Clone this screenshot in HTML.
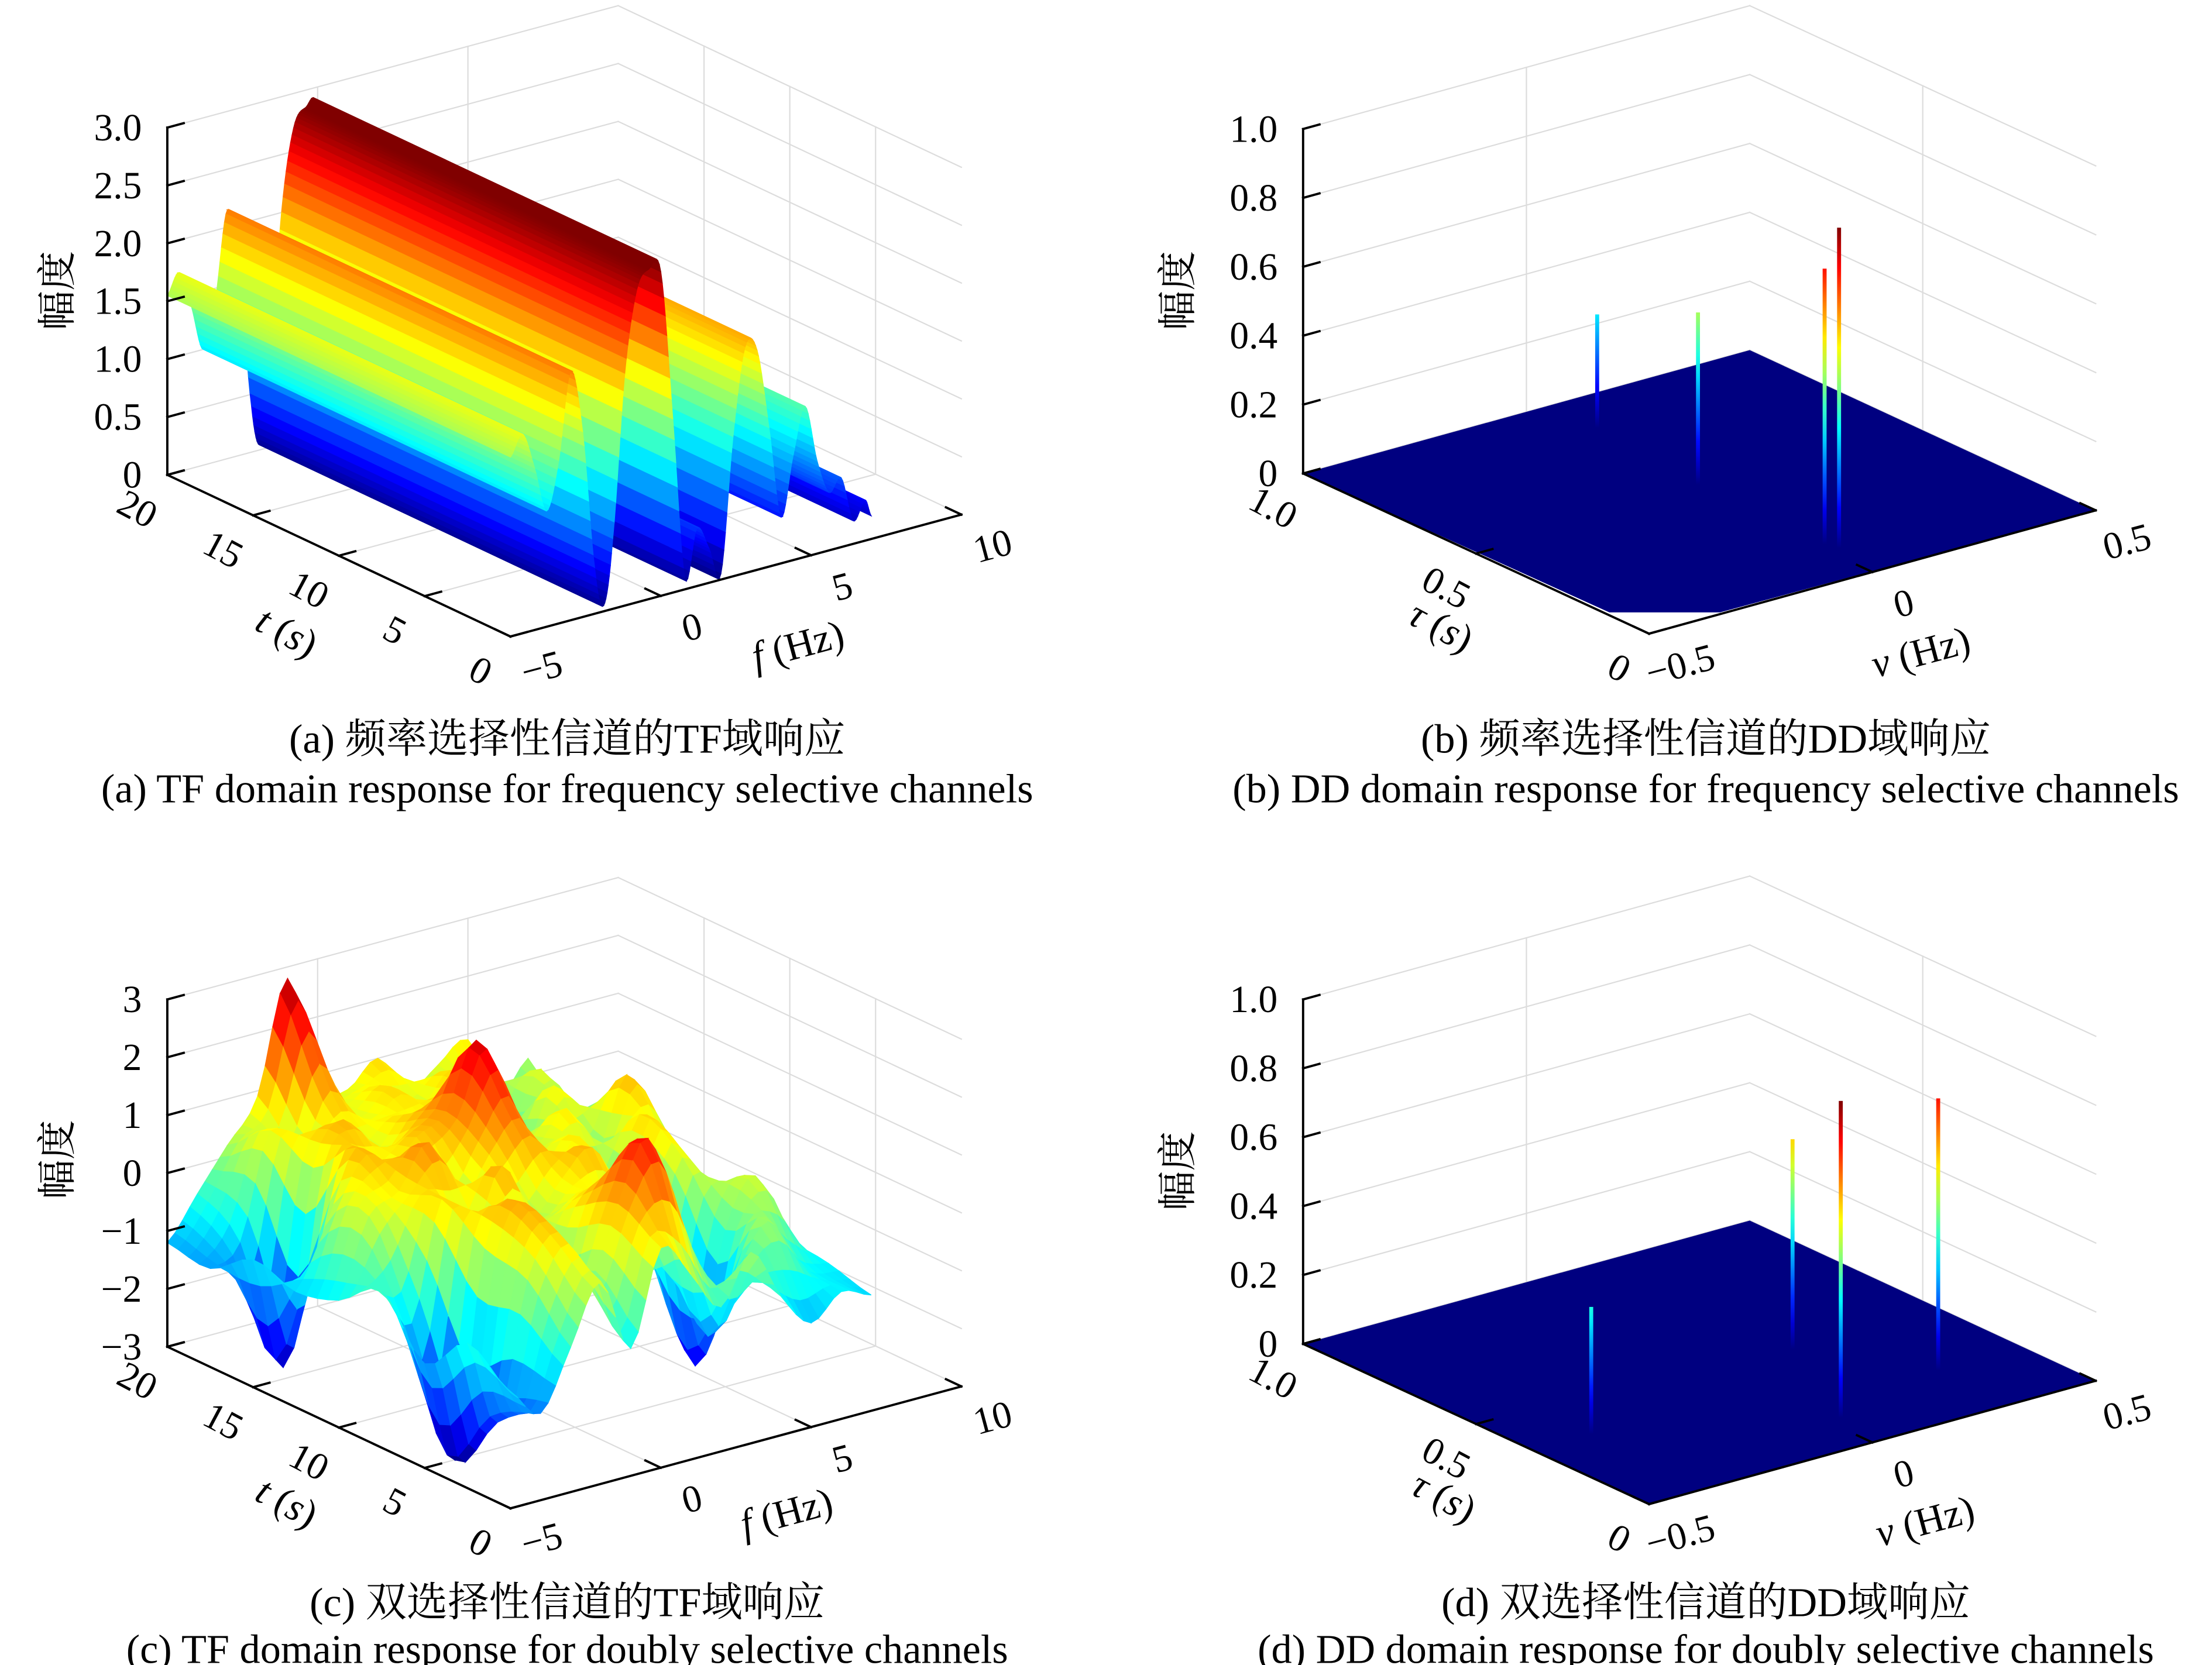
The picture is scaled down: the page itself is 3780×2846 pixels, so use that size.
<!DOCTYPE html>
<html><head><meta charset="utf-8"><style>
html,body{margin:0;padding:0;background:#fff}
svg{display:block}
text{font-family:"Liberation Serif","Noto Serif CJK SC","Noto Sans CJK SC",serif;fill:#000}
</style></head><body>
<svg id="fig" xmlns="http://www.w3.org/2000/svg" width="3780" height="2846" viewBox="0 0 1560 1174.5" preserveAspectRatio="none">
<rect x="0" y="0" width="1560" height="1174.5" fill="#fff"/>
<text x="400" y="531" font-size="29" text-anchor="middle">(a) 频率选择性信道的TF域响应</text>
<text x="400" y="566" font-size="29" text-anchor="middle">(a) TF domain response for frequency selective channels</text>
<text x="1203" y="531" font-size="29" text-anchor="middle">(b) 频率选择性信道的DD域响应</text>
<text x="1203" y="566" font-size="29" text-anchor="middle">(b) DD domain response for frequency selective channels</text>
<text x="400" y="1140" font-size="29" text-anchor="middle">(c) 双选择性信道的TF域响应</text>
<text x="400" y="1173" font-size="29" text-anchor="middle">(c) TF domain response for doubly selective channels</text>
<text x="1203" y="1140" font-size="29" text-anchor="middle">(d) 双选择性信道的DD域响应</text>
<text x="1203" y="1173" font-size="29" text-anchor="middle">(d) DD domain response for doubly selective channels</text>
</svg>
<script>
// ---- data ----
const aFreq = [-5.0,-4.6,-4.2,-3.8,-3.4,-3.0,-2.6,-2.2,-1.9,-1.6,-1.2,-0.8,-0.4,0.0,0.4,0.8,1.2,1.6,2.0,2.4,2.8,3.2,3.6,4.0,4.4,4.8,5.2,5.6,6.0,6.4,6.8,7.0];
const aAmp  = [1.55,1.72,1.4,1.0,1.4,2.15,1.6,0.4,0.05,0.6,2.0,2.7,2.85,2.8,1.5,0.1,0.5,0.3,0.05,1.2,1.95,1.9,1.2,0.4,0.9,1.3,0.8,0.5,0.6,0.2,0.35,0.2];
const aZTicks = [0,0.5,1,1.5,2,2.5,3];
const aZLabels = ["0","0.5","1.0","1.5","2.0","2.5","3.0"];
const tTicks = [20,15,10,5,0];
const tLabels = ["20","15","10","5","0"];
const fTicks = [-5,0,5,10];
const fLabels = ["\u22125","0","5","10"];
const bTau = [0.86,0.53,0.16,0.13];
const bNu  = [0.05,0.02,0.017,0.026];
const bAmp = [0.33,0.50,0.80,0.93];
const cT = [0,2.5,5,7.5,10,12.5,15,17.5,20];
const cF = [-5,-4,-3,-2,-1,0,1,2,3,4,5,6,7];
const cZ = [
 [-1.0,-1.5,-0.5, 0.5,-0.8, 0.8, 0.2,-0.5, 0.3,-0.6,-1.2,-0.8,-1.0],
 [-0.5,-2.0, 0.3, 1.0, 0.0, 1.2, 2.2, 0.5,-1.5,-0.5, 0.2,-0.6,-0.8],
 [-1.2,-3.0, 0.5, 1.2,-0.5, 0.8, 1.0,-0.5,-0.2,-2.5,-0.3, 0.5,-0.7],
 [-0.3,-1.0, 1.0, 0.2, 1.3, 0.3, 0.8, 1.2, 0.2,-0.8, 0.6,-0.2,-0.5],
 [-0.8, 0.5, 0.8, 1.5, 0.3, 1.0, 1.5, 0.4, 0.9,-0.3, 1.0, 0.3,-0.3],
 [-1.0, 0.0, 1.2, 0.6, 1.1, 1.4, 2.5, 0.8, 0.4, 0.9, 0.0, 1.2, 0.2],
 [-0.8,-2.8, 0.5, 1.2, 0.5, 1.0, 0.8, 1.3, 0.6,-0.2, 0.8, 0.0, 0.4],
 [-1.3,-1.0, 0.8, 0.3, 1.2, 0.6, 1.0, 0.5, 1.0, 0.3,-0.2, 0.6,-0.5],
 [-1.2,-0.5, 0.2, 0.9, 2.8, 0.8, 0.6, 1.0, 0.3, 0.6, 0.9,-0.2, 0.3]];
const cZTicks = [-3,-2,-1,0,1,2,3];
const cZLabels = ["\u22123","\u22122","\u22121","0","1","2","3"];
const dTau = [0.335,0.45,0.13,0.21];
const dNu  = [-0.37,0.17,0.03,0.31];
const dAmp = [0.37,0.61,0.92,0.79];
const ddZTicks = [0,0.2,0.4,0.6,0.8,1];
const ddZLabels = ["0","0.2","0.4","0.6","0.8","1.0"];
const tauTicks = [1,0.5,0];
const tauLabels = ["1.0","0.5","0"];
const nuTicks = [-0.5,0,0.5];
const nuLabels = ["\u22120.5","0","0.5"];

// ---- helpers ----
const NS="http://www.w3.org/2000/svg";
const svg=document.getElementById('fig');
function mk(tag,attrs,parent){const e=document.createElementNS(NS,tag);for(const k in attrs)e.setAttribute(k,attrs[k]);(parent||svg).appendChild(e);return e;}
function jet(v){v=Math.max(0,Math.min(1,v));const c=x=>Math.round(255*Math.max(0,Math.min(1,1.5-Math.abs(4*v-x))));return `rgb(${c(3)},${c(2)},${c(1)})`;}
function cr(p0,p1,p2,p3,s){return 0.5*((2*p1)+(-p0+p2)*s+(2*p0-5*p1+4*p2-p3)*s*s+(-p0+3*p1-3*p2+p3)*s*s*s);}
function makeAxes(cfg){
  cfg.P=(u,v,w)=>[cfg.O[0]+u*cfg.U[0]+v*cfg.V[0], cfg.O[1]+u*cfg.U[1]+v*cfg.V[1]-w*cfg.H];
  return cfg;
}
function line(g,a,b,stroke,sw){return mk('line',{x1:a[0].toFixed(2),y1:a[1].toFixed(2),x2:b[0].toFixed(2),y2:b[1].toFixed(2),stroke:stroke,'stroke-width':sw,'stroke-linecap':'square'},g);}
function drawGrid(cfg,g,zT,uT,vT){
  const P=cfg.P, gc='#dcdcdc', sw=0.9;
  zT.forEach(z=>{const w=cfg.wOf(z);
    const l1=line(g,P(0,0,w),P(0,1,w),gc,sw);
    
    
    const l2=line(g,P(0,1,w),P(1,1,w),gc,sw);
    
    });
  vT.forEach(x=>{const v=cfg.vOf(x);
    const l1=line(g,P(0,v,0),P(0,v,1),gc,sw);
    
    
    const l2=line(g,P(0,v,0),P(1,v,0),gc,sw);
    
    });
  uT.forEach(x=>{const u=cfg.uOf(x);
    const l1=line(g,P(u,1,0),P(u,1,1),gc,sw);
    
    
    const l2=line(g,P(u,0,0),P(u,1,0),gc,sw);
    
    });
}
function drawAxes(cfg,g,zT,zL,uT,uL,vT,vL,titles){
  const P=cfg.P, k='#000', sw=1.6;
  const ax1=line(g,P(0,0,0),P(0,0,1),k,sw);
  
  
  const ax2=line(g,P(0,0,0),P(1,0,0),k,sw);
  
  
  const ax3=line(g,P(1,0,0),P(1,1,0),k,sw);
  
  
  const vl=Math.hypot(cfg.V[0],cfg.V[1]), ul=Math.hypot(cfg.U[0],cfg.U[1]);
  const vd=[cfg.V[0]/vl*12,cfg.V[1]/vl*12], ud=[-cfg.U[0]/ul*12,-cfg.U[1]/ul*12];
  zT.forEach((z,i)=>{const p=P(0,0,cfg.wOf(z));
    const tk=line(g,p,[p[0]+vd[0],p[1]+vd[1]],k,sw);
    
    
    const t=mk('text',{x:(p[0]-18).toFixed(1),y:(p[1]+9).toFixed(1),'font-size':27,'text-anchor':'end'},g);
    t.textContent=zL[i];
    
    });
  uT.forEach((x,i)=>{const p=P(cfg.uOf(x),0,0);
    const tk=line(g,p,[p[0]+vd[0],p[1]+vd[1]],k,sw);
    
    
    const lx=p[0]-21, ly=p[1]+24;
    const t=mk('text',{x:lx.toFixed(1),y:(ly+9).toFixed(1),'font-size':27,'text-anchor':'middle',transform:`rotate(28 ${lx.toFixed(1)} ${ly.toFixed(1)})`},g);
    t.textContent=uL[i];
    
    });
  vT.forEach((x,i)=>{const p=P(1,cfg.vOf(x),0);
    const tk=line(g,p,[p[0]+ud[0],p[1]+ud[1]],k,sw);
    
    
    const lx=p[0]+22, ly=p[1]+22;
    const t=mk('text',{x:lx.toFixed(1),y:(ly+9).toFixed(1),'font-size':27,'text-anchor':'middle',transform:`rotate(-15 ${lx.toFixed(1)} ${ly.toFixed(1)})`},g);
    t.textContent=vL[i];
    
    });
  const zt=mk('text',{x:titles.z[0],y:titles.z[1],'font-size':28,'text-anchor':'middle',transform:`rotate(-90 ${titles.z[0]} ${titles.z[1]})`},g);
  zt.textContent='幅度';
  
  
  const ut=mk('text',{x:titles.u[0],y:titles.u[1],'font-size':28,'text-anchor':'middle',transform:`rotate(28 ${titles.u[0]} ${titles.u[1]})`},g);
  ut.innerHTML=`<tspan font-style="italic">${titles.uSym}</tspan> (<tspan font-style="italic">s</tspan>)`;
  
  
  const vt=mk('text',{x:titles.v[0],y:titles.v[1],'font-size':28,'text-anchor':'middle',transform:`rotate(-15 ${titles.v[0]} ${titles.v[1]})`},g);
  vt.innerHTML=`<tspan font-style="italic">${titles.vSym}</tspan> (Hz)`;
  
  
}
function panelGroup(name){const g=mk('g',{});return g;}

// ---- Panel (a) ----
(function(){
  const cfg=makeAxes({O:[118,335],U:[242,114],V:[318,-86],H:245,uOf:t=>(20-t)/20,vOf:f=>(f+5)/15,wOf:z=>z/3});
  const g=panelGroup('panel-a');
  drawGrid(cfg,g,aZTicks,tTicks.slice(1,4),fTicks.slice(1,3));
  const sg=mk('g',{},g);
  
  
  const fs=[],zs=[];const n=aFreq.length;
  for(let i=0;i<n-1;i++){for(let s=0;s<8;s++){const q=s/8;
    const f=aFreq[i]+(aFreq[i+1]-aFreq[i])*q;
    const z=Math.max(0,cr(aAmp[Math.max(0,i-1)],aAmp[i],aAmp[i+1],aAmp[Math.min(n-1,i+2)],q));
    fs.push(f);zs.push(z);}}
  fs.push(aFreq[n-1]);zs.push(aAmp[n-1]);
  const zmax=Math.max(...aAmp);
  for(let i=fs.length-2;i>=0;i--){
    const v1=cfg.vOf(fs[i]),v2=cfg.vOf(fs[i+1]),w1=cfg.wOf(zs[i]),w2=cfg.wOf(zs[i+1]);
    const pts=[cfg.P(1,v1,w1),cfg.P(1,v2,w2),cfg.P(0,v2,w2),cfg.P(0,v1,w1)];
    const col=jet((zs[i]+zs[i+1])/2/zmax);
    const p=mk('polygon',{points:pts.map(q=>q[0].toFixed(2)+','+q[1].toFixed(2)).join(' '),fill:col,stroke:col,'stroke-width':0.6},sg);
    
    
  }
  drawAxes(cfg,g,aZTicks,aZLabels,tTicks,tLabels,fTicks,fLabels,{z:[50,205],u:[198,454],uSym:'t',v:[565,464],vSym:'f'});
})();

// ---- Panel (c) ----
(function(){
  const cfg=makeAxes({O:[118,950],U:[242,114],V:[318,-86],H:245,uOf:t=>(20-t)/20,vOf:f=>(f+5)/15,wOf:z=>(z+3)/6});
  const g=panelGroup('panel-c');
  drawGrid(cfg,g,cZTicks,tTicks.slice(1,4),fTicks.slice(1,3));
  const sg=mk('g',{},g);
  
  
  const S=4, nr=cT.length, nc=cF.length;
  const at=(a,i)=>a[Math.max(0,Math.min(a.length-1,i))];
  const rowsF=cZ.map(row=>{const out=[];for(let j=0;j<nc-1;j++)for(let s=0;s<S;s++)out.push(cr(at(row,j-1),row[j],row[j+1],at(row,j+2),s/S));out.push(row[nc-1]);return out;});
  const M=rowsF[0].length, grid=[];
  for(let i=0;i<nr-1;i++)for(let s=0;s<S;s++){const r=[];for(let j=0;j<M;j++)r.push(cr(at(rowsF,i-1)[j],rowsF[i][j],rowsF[i+1][j],at(rowsF,i+2)[j],s/S));grid.push(r);}
  grid.push(rowsF[nr-1]);
  const tv=[],fv=[];
  for(let i=0;i<grid.length;i++)tv.push(cT[0]+(cT[nr-1]-cT[0])*i/(grid.length-1));
  for(let j=0;j<M;j++)fv.push(cF[0]+(cF[nc-1]-cF[0])*j/(M-1));
  const quads=[];
  for(let i=0;i<grid.length-1;i++)for(let j=0;j<M-1;j++){
    const c=[[i,j],[i,j+1],[i+1,j+1],[i+1,j]].map(([a,b])=>cfg.P(cfg.uOf(tv[a]),cfg.vOf(fv[b]),cfg.wOf(Math.max(-3,Math.min(3,grid[a][b])))));
    const zm=(grid[i][j]+grid[i][j+1]+grid[i+1][j]+grid[i+1][j+1])/4;
    const d=cfg.P(cfg.uOf((tv[i]+tv[i+1])/2),cfg.vOf((fv[j]+fv[j+1])/2),0)[1];
    quads.push({c,zm,d});}
  quads.sort((a,b)=>a.d-b.d);
  quads.forEach(q=>{const col=jet((q.zm+3)/6);
    const p=mk('polygon',{points:q.c.map(r=>r[0].toFixed(1)+','+r[1].toFixed(1)).join(' '),fill:col,stroke:col,'stroke-width':0.6},sg);
    
    });
  drawAxes(cfg,g,cZTicks,cZLabels,tTicks,tLabels,fTicks,fLabels,{z:[50,818],u:[198,1068],uSym:'t',v:[557,1076],vSym:'f'});
})();

// ---- Panels (b),(d) ----
let gradId=0;
function ddPanel(name,O,tau,nu,amp,floorPts,titles){
  const cfg=makeAxes({O:O,U:[244,113],V:[315,-87],H:243,uOf:t=>1-t,vOf:n=>n+0.5,wOf:z=>z});
  const g=panelGroup(name);
  drawGrid(cfg,g,ddZTicks,[0.5],[0]);
  const fl=mk('polygon',{points:floorPts.map(q=>q[0]+','+q[1]).join(' '),fill:'#000080'},g);
  
  
  const hmax=Math.max(...amp);
  const defs=mk('defs',{},g);
  tau.forEach((t,i)=>{
    const b=cfg.P(cfg.uOf(t),cfg.vOf(nu[i]),0), top=cfg.P(cfg.uOf(t),cfg.vOf(nu[i]),amp[i]);
    const id='sg'+(gradId++);
    const lg=mk('linearGradient',{id:id,gradientUnits:'userSpaceOnUse',x1:0,y1:b[1],x2:0,y2:top[1]},defs);
    for(let k=0;k<=8;k++){mk('stop',{offset:k/8,'stop-color':jet(amp[i]*k/8/hmax)},lg);}
    const r=mk('rect',{x:(b[0]-1.4).toFixed(1),y:top[1].toFixed(1),width:2.8,height:(b[1]-top[1]).toFixed(1),fill:`url(#${id})`},g);
    
    
  });
  drawAxes(cfg,g,ddZTicks,ddZLabels,tauTicks,tauLabels,nuTicks,nuLabels,titles);
}
ddPanel('panel-b',[919,334],bTau,bNu,bAmp,[[919,334],[1135,432],[1213,432],[1478,360],[1234,247]],{z:[840,205],u:[1012,450],uSym:'τ',v:[1357,469],vSym:'ν'});
ddPanel('panel-d',[919,948],dTau,dNu,dAmp,[[919,948],[1163,1061],[1478,974],[1234,861]],{z:[840,826],u:[1014,1064],uSym:'τ',v:[1360,1082],vSym:'ν'});
</script>
</body></html>
